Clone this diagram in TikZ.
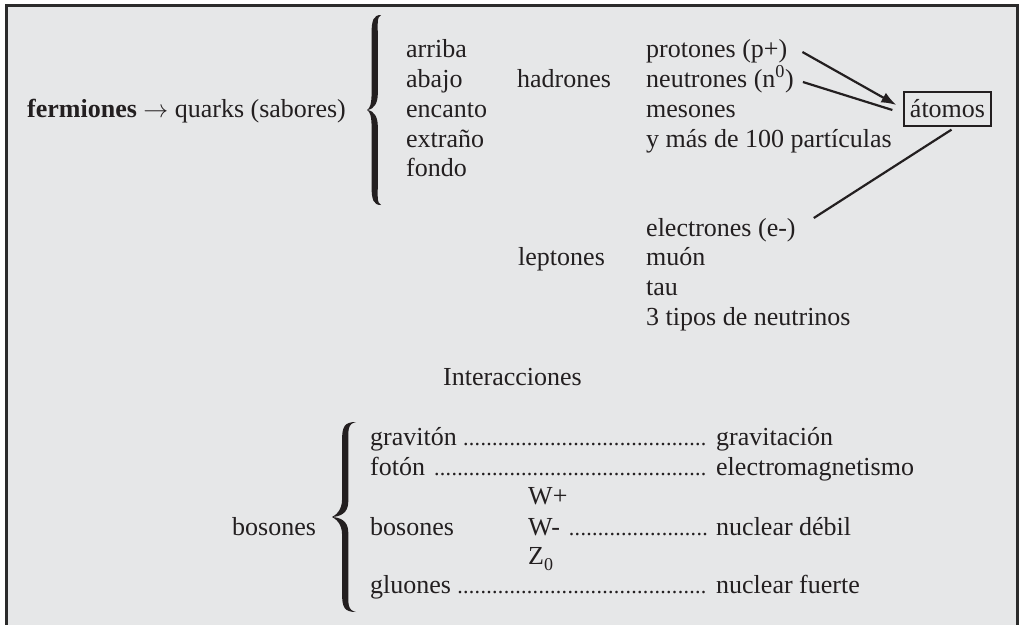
\documentclass[tikz,border=0pt]{standalone}
\usepackage{fontspec}
\setmainfont{Liberation Serif}
\usetikzlibrary{arrows.meta,calc}
\definecolor{bg}{HTML}{E6E7E8}
\definecolor{ink}{HTML}{231F20}
\definecolor{framecol}{HTML}{2B2B2B}
\newcommand\bodyfont{\fontsize{26}{30}\selectfont}
\newcommand\dotlead{\leaders\hbox to 5.8pt{\hss\fontsize{22}{22}\selectfont.\hss}\hfill}
\newcommand\leadrow[3]{\hbox to #1{#2\hskip 5pt\dotlead\hskip 5pt}#3}
% filled curly brace: #1 tip x, #2 end x, #3 top y, #4 bottom y
\newcommand\bracefill[4]{%
  \pgfmathsetmacro\brS{#1+0.55*(#2-#1)}%
  \pgfmathsetmacro\brH{3.1}%
  \pgfmathsetmacro\brM{(#3+#4)/2}%
  \fill[ink] (#2,#3)
    .. controls (\brS-\brH+2,#3) and (\brS-\brH,#3+5) .. (\brS-\brH,#3+18)
    -- (\brS-\brH,\brM-18)
    .. controls (\brS-\brH,\brM-6) and (#1+3,\brM-1.5) .. (#1,\brM)
    .. controls (#1+3,\brM+1.5) and (\brS-\brH,\brM+6) .. (\brS-\brH,\brM+18)
    -- (\brS-\brH,#4-18)
    .. controls (\brS-\brH,#4-5) and (\brS-\brH+2,#4) .. (#2,#4)
    .. controls (\brS+\brH-1,#4-2) and (\brS+\brH,#4-8) .. (\brS+\brH,#4-22)
    -- (\brS+\brH,\brM+16)
    .. controls (\brS+\brH,\brM+8) and (\brS,\brM+1) .. (#1+0.5,\brM)
    .. controls (\brS,\brM-1) and (\brS+\brH,\brM-8) .. (\brS+\brH,\brM-16)
    -- (\brS+\brH,#3+22)
    .. controls (\brS+\brH,#3+8) and (\brS+\brH-1,#3+2) .. (#2,#3)
    -- cycle;%
}
\begin{document}
\begin{tikzpicture}[x=1pt,y=-1pt,
  txt/.style={anchor=base west,inner sep=0pt,text=ink,font=\bodyfont},
  link/.style={draw=ink,line width=2.2pt},
  boxed/.style={draw=ink,line width=1.3pt,text=ink,font=\bodyfont,minimum width=87pt,minimum height=34pt,inner sep=0pt}]
\useasboundingbox (0,0) rectangle (1020,624);
\fill[white] (0,0) rectangle (1020,624);
\filldraw[fill=bg,draw=framecol,line width=3pt] (6.5,5.5) rectangle (1017.5,650);

% fermions
\node[txt] (ferm) at (27,117) {\textbf{fermiones} $\rightarrow$ quarks (sabores)};
\bracefill{367}{381}{15}{205}
\node[txt] (q1) at (406,57) {arriba};
\node[txt] (q2) at (406,87) {abajo};
\node[txt] (q3) at (406,117) {encanto};
\node[txt] (q4) at (406,147) {extraño};
\node[txt] (q5) at (406,176) {fondo};

\node[txt] (had) at (517,87) {hadrones};
\node[txt] (prot) at (646,57) {protones (p+)};
\node[txt] (neut) at (646,87) {neutrones (n\textsuperscript{0})};
\node[txt] (meso) at (646,117) {mesones};
\node[txt] (mas) at (646,147) {y más de 100 partículas};

\node[boxed] (atom) at (947.5,109) {átomos};

\node[txt] (lep) at (518,265) {leptones};
\node[txt] (elec) at (646,236) {electrones (e-)};
\node[txt] (muon) at (646,265) {muón};
\node[txt] (tau) at (646,295) {tau};
\node[txt] (neu) at (646,325) {3 tipos de neutrinos};

\draw[link,-{Latex[length=15pt,width=11pt]}] ($(prot.base east)+(15,-5)$) -- ($(atom.west)+(-7,-4)$);
\draw[link] ($(neut.base east)+(9,-5)$) -- ($(atom.west)+(-11,1)$);
\draw[link] ($(elec.base east)+(18,-18)$) -- ($(atom.south)+(4,3)$);

% interactions
\node[txt] (inter) at (443,385) {Interacciones};
\node[txt] (bos) at (232,535) {bosones};
\bracefill{332}{356}{422}{612}
\node[txt] (grav) at (370,445) {\leadrow{346pt}{gravitón}{gravitación}};
\node[txt] (foton) at (370,475) {\leadrow{346pt}{fotón}{electromagnetismo}};
\node[txt] (wplus) at (528,504) {W+};
\node[txt] (bos2) at (370,535) {bosones};
\node[txt] (wminus) at (528,535) {\leadrow{188pt}{W-}{nuclear débil}};
\node[txt] (zzero) at (528,564) {Z\raisebox{-6pt}{\fontsize{18}{18}\selectfont 0}};
\node[txt] (gluon) at (370,593) {\leadrow{346pt}{gluones}{nuclear fuerte}};
\end{tikzpicture}
\end{document}
